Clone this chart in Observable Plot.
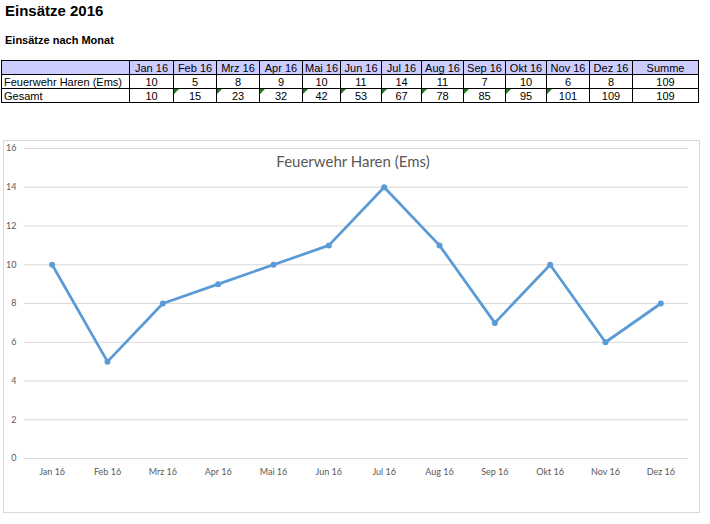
<!DOCTYPE html>
<html>
<head>
<meta charset="utf-8">
<script src="https://cdn.jsdelivr.net/npm/d3@7"></script>
<script src="https://cdn.jsdelivr.net/npm/@observablehq/plot@0.6"></script>
<style>
  body { margin: 0; background: #fff; width: 710px; height: 524px; position: relative; overflow: hidden; font-family: "Liberation Sans", Arial, sans-serif; }
  #title { position: absolute; left: 5px; top: 2px; font-size: 15px; font-weight: bold; color: #000; }
  #subtitle { position: absolute; left: 5px; top: 34px; font-size: 11px; font-weight: bold; color: #000; }
  table { position: absolute; left: 1px; top: 60px; border-collapse: collapse; font-size: 11px; table-layout: fixed; }
  td { border: 1px solid #000; height: 13px; padding: 0 2px; line-height: 12px; text-align: center; position: relative; white-space: nowrap; overflow: hidden; }
  td.lbl { text-align: left; padding-left: 2px; }
  tr.head td { background: #ccccff; }
  td.tri::before { content: ""; position: absolute; left: 0; top: 0; width: 0; height: 0; border-top: 5px solid #1e7a1e; border-right: 5px solid transparent; }
  #chartbox { position: absolute; left: 3px; top: 140px; width: 697px; height: 373px; border: 1px solid #d9d9d9; box-sizing: border-box; }
  #chart { position: absolute; left: 3px; top: 140px; }
  #ctitle { position: absolute; left: 3px; width: 700px; top: 152px; text-align: center; font-family: Lato, "Open Sans", sans-serif; font-size: 15px; color: #595959; }
</style>
</head>
<body>
<div id="title">Einsätze 2016</div>
<div id="subtitle">Einsätze nach Monat</div>
<table id="tbl"></table>
<div id="chartbox"></div>
<div id="chart"></div>
<div id="ctitle">Feuerwehr Haren (Ems)</div>
<script>
const months = ["Jan 16","Feb 16","Mrz 16","Apr 16","Mai 16","Jun 16","Jul 16","Aug 16","Sep 16","Okt 16","Nov 16","Dez 16"];
const seriesName = "Feuerwehr Haren (Ems)";
const values = [10, 5, 8, 9, 10, 11, 14, 11, 7, 10, 6, 8];
const gesamt = [10, 15, 23, 32, 42, 53, 67, 78, 85, 95, 101, 109];
const summe = 109;
const yTicks = [0, 2, 4, 6, 8, 10, 12, 14, 16];

// Table
const colWidths = [128, 44, 43, 43, 43, 38, 41, 40, 42, 42, 41, 43, 43, 66];
const tbl = document.getElementById("tbl");
const cg = document.createElement("colgroup");
colWidths.forEach(w => { const c = document.createElement("col"); c.style.width = w + "px"; cg.appendChild(c); });
tbl.appendChild(cg);
function addRow(cells, cls, triFn) {
  const tr = document.createElement("tr");
  if (cls) tr.className = cls;
  cells.forEach((t, i) => {
    const td = document.createElement("td");
    td.textContent = t;
    if (i === 0) td.className = "lbl";
    if (triFn && triFn(i)) td.classList.add("tri");
    tr.appendChild(td);
  });
  tbl.appendChild(tr);
}
addRow(["", ...months, "Summe"], "head");
addRow([seriesName, ...values, summe]);
addRow(["Gesamt", ...gesamt, summe], null, i => i >= 2 && i <= 11);

// Chart
const data = months.map((m, i) => ({month: m, value: values[i]}));
const plot = Plot.plot({
  width: 697,
  height: 373,
  marginTop: 8,
  marginBottom: 55,
  marginLeft: 21,
  marginRight: 12,
  style: { fontFamily: "Lato, 'Open Sans', sans-serif", fontSize: "9px", color: "#595959", background: "transparent" },
  x: { type: "point", domain: months, padding: 0.5, round: false, label: null },
  y: { domain: [0, 16], label: null },
  marks: [
    Plot.gridY(yTicks, { stroke: "#d9d9d9", strokeOpacity: 1 }),
    Plot.axisY(yTicks, { tickSize: 0, tickPadding: 8, fill: "#595959", label: null }),
    Plot.axisX({ tickSize: 0, tickPadding: 10, fill: "#595959", label: null }),
    Plot.line(data, { x: "month", y: "value", stroke: "#5b9bd5", strokeWidth: 2.75, curve: "linear" }),
    Plot.dot(data, { x: "month", y: "value", fill: "#5b9bd5", r: 3 })
  ]
});
document.getElementById("chart").appendChild(plot);
</script>
</body>
</html>
